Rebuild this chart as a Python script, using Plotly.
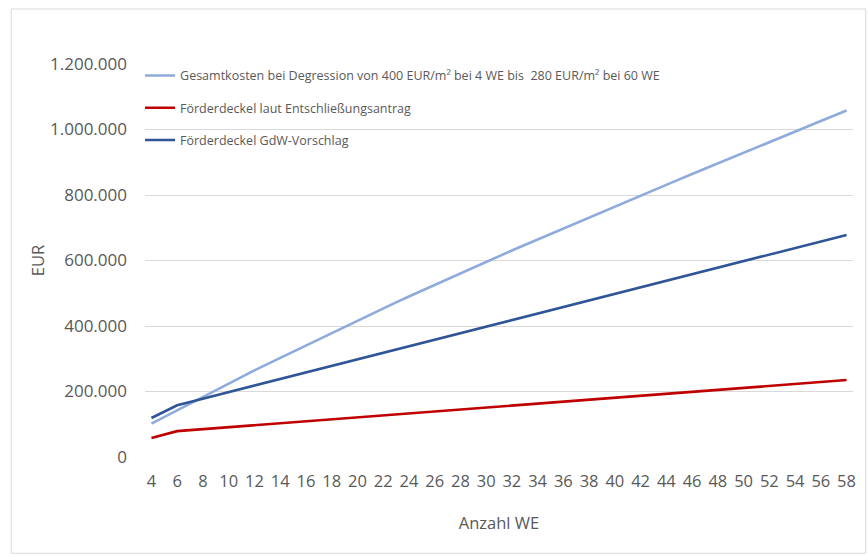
import plotly.graph_objects as go

# Anzahl Wohneinheiten (WE)
anzahl_we = list(range(4, 59))

# Gesamtkosten bei Degression von 400 EUR/m² (4 WE) bis 280 EUR/m² (60 WE)
gesamtkosten = [
    102000, 122500, 142600, 162900, 183200, 203500, 223800, 244100, 264400,
    283400, 302400, 321400, 340400, 359400, 378400, 397400, 416400, 435400,
    454400, 472200, 490000, 507800, 525600, 543400, 561200, 579000, 596800,
    613700, 630600, 647500, 664400, 681300, 698200, 715100, 732000, 748900,
    765800, 782200, 798600, 815000, 831400, 847800, 864200, 880600, 897000,
    913400, 929800, 945800, 961800, 977800, 993800, 1009800, 1025800,
    1041800, 1057800,
]

# Förderdeckel laut Entschließungsantrag
deckel_antrag = [
    58000, 68500, 79000, 82000, 85000, 88000, 91000, 94000, 97000,
    100000, 103000, 106000, 109000, 112000, 115000, 118000, 121000, 124000,
    127000, 130000, 133000, 136000, 139000, 142000, 145000, 148000, 151000,
    154000, 157000, 160000, 163000, 166000, 169000, 172000, 175000, 178000,
    181000, 184000, 187000, 190000, 193000, 196000, 199000, 202000, 205000,
    208000, 211000, 214000, 217000, 220000, 223000, 226000, 229000,
    232000, 235000,
]

# Förderdeckel GdW-Vorschlag
deckel_gdw = [
    119000, 138500, 158000, 168000, 178000, 188000, 198000, 208000, 218000,
    228000, 238000, 248000, 258000, 268000, 278000, 288000, 298000, 308000,
    318000, 328000, 338000, 348000, 358000, 368000, 378000, 388000, 398000,
    408000, 418000, 428000, 438000, 448000, 458000, 468000, 478000, 488000,
    498000, 508000, 518000, 528000, 538000, 548000, 558000, 568000, 578000,
    588000, 598000, 608000, 618000, 628000, 638000, 648000, 658000,
    668000, 678000,
]

series = [
    ("Gesamtkosten bei Degression von 400 EUR/m² bei 4 WE bis\u00a0 280 EUR/m² bei 60 WE",
     gesamtkosten, "#8faadc"),
    ("Förderdeckel laut Entschließungsantrag", deckel_antrag, "#c00000"),
    ("Förderdeckel GdW-Vorschlag", deckel_gdw, "#2f5597"),
]

y_ticks = list(range(0, 1200001, 200000))
y_labels = [f"{v:,}".replace(",", ".") for v in y_ticks]
x_ticks = list(range(4, 59, 2))

FONT = "Open Sans"
GREY = "#595959"

fig = go.Figure()
for i, (name, values, color) in enumerate(series):
    fig.add_trace(go.Scatter(
        x=anzahl_we, y=values, name=name, mode="lines",
        line=dict(color=color, width=2.6),
        legendgroup=f"g{i}",
    ))

fig.update_layout(
    width=868, height=557,
    margin=dict(l=145, r=15, t=63.5, b=100.3),
    paper_bgcolor="white", plot_bgcolor="white",
    font=dict(family=FONT, color=GREY, size=16),
    showlegend=True,
    legend=dict(
        x=-0.007, y=1.008, xanchor="left", yanchor="top",
        bgcolor="rgba(0,0,0,0)",
        font=dict(family=FONT, size=12.5, color=GREY),
        tracegroupgap=13,
        itemwidth=30,
    ),
    xaxis=dict(
        range=[3.5, 58.5], tickmode="array", tickvals=x_ticks,
        showgrid=False, zeroline=False, showline=False,
        ticks="", ticklen=0, ticklabelstandoff=12,
        tickfont=dict(family=FONT, size=16.5, color=GREY),
        title=dict(text="Anzahl WE", font=dict(family=FONT, size=16.5, color=GREY),
                   standoff=26),
    ),
    yaxis=dict(
        range=[0, 1200000], tickmode="array", tickvals=y_ticks, ticktext=y_labels,
        showgrid=True, gridcolor="#d9d9d9", gridwidth=1,
        zeroline=False, showline=False, ticks="", ticklabelstandoff=17,
        tickfont=dict(family=FONT, size=17, color=GREY),
        title=dict(text="EUR", font=dict(family=FONT, size=16.5, color=GREY),
                   standoff=1),
    ),
    shapes=[
        dict(type="rect", xref="paper", yref="paper",
             x0=-0.189, x1=1.018, y0=-0.245, y1=1.14,
             line=dict(color="#d9d9d9", width=1), layer="below"),
    ],
)

fig.write_html("out.html")
